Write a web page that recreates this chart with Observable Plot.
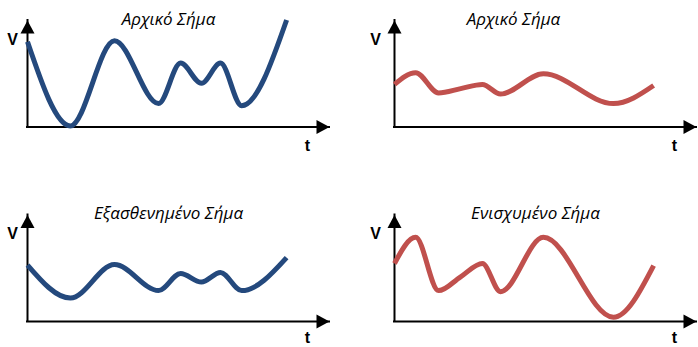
<!DOCTYPE html>
<html>
<head>
<meta charset="utf-8">
<script src="https://cdn.jsdelivr.net/npm/d3@7"></script>
<script src="https://cdn.jsdelivr.net/npm/@observablehq/plot@0.6"></script>
<style>
  html, body { margin: 0; padding: 0; background: #fff; }
</style>
</head>
<body>
<div id="chart"></div>
<script>
// Panel titles, in reading order (top-left, top-right, bottom-left, bottom-right)
const titles = ["Αρχικό Σήμα", "Αρχικό Σήμα", "Εξασθενημένο Σήμα", "Ενισχυμένο Σήμα"];
const axisLabels = {v: "V", t: "t"};

// Blue signal: original and attenuated
const blueT = [0, 14.2, 28.8, 43.4, 50.7, 57.6, 63.9, 70.9, 85.8];
const blueOriginalV = [8.0, 0.1, 8.1, 2.2, 6.0, 4.1, 6.0, 2.0, 10.05];
const blueAttenuatedV = [5.3, 2.2, 5.35, 2.9, 4.5, 3.7, 4.6, 2.9, 6.0];

// Red signal: original and amplified
const redT = [0, 7.0, 14.6, 21.9, 29.1, 35.1, 49.3, 72.5, 85.8];
const redOriginalV = [4.0, 5.1, 3.2, 3.6, 4.0, 3.1, 5.0, 2.2, 3.9];
const redAmplifiedV = [5.45, 7.9, 2.9, 4.2, 5.45, 2.8, 7.9, 0.4, 5.25];

// Axis extents (the arrow tips sit at the far end)
const tRange = [0, 100];
const vRange = [0, 10];

const BLUE = "#24497d";
const RED = "#c0504d";

const panels = titles.map((title, i) => ({title, panel: i, col: i % 2, row: Math.floor(i / 2)}));

const series = [
  {panel: 0, t: blueT, v: blueOriginalV, color: BLUE},
  {panel: 1, t: redT, v: redOriginalV, color: RED},
  {panel: 2, t: blueT, v: blueAttenuatedV, color: BLUE},
  {panel: 3, t: redT, v: redAmplifiedV, color: RED}
];

// Filled arrowheads with the tip at the symbol origin
const arrowUp = {draw(ctx) { ctx.moveTo(0, 0); ctx.lineTo(7, 13); ctx.lineTo(-7, 13); ctx.closePath(); }};
const arrowRight = {draw(ctx) { ctx.moveTo(0, 0); ctx.lineTo(-13, -7); ctx.lineTo(-13, 7); ctx.closePath(); }};

const curveMarks = series.map(s =>
  Plot.line(
    s.t.map((t, j) => ({t, v: s.v[j], col: s.panel % 2, row: Math.floor(s.panel / 2)})),
    {x: "t", y: "v", fx: "col", fy: "row", stroke: s.color, strokeWidth: 5,
     curve: "monotone-x", strokeLinejoin: "round", strokeLinecap: "butt"}
  )
);

const labelFont = {fontFamily: "Liberation Sans, Arial, sans-serif", fontWeight: "bold", fontSize: 16, fill: "black"};
const titleFont = {fontFamily: "Open Sans, sans-serif", fontStyle: "italic", fontSize: 17, fill: "black"};

const chart = Plot.plot({
  width: 698,
  height: 347,
  marginLeft: 27,
  marginRight: 2,
  marginTop: 20,
  marginBottom: 26,
  x: {domain: tRange, axis: null},
  y: {domain: vRange, axis: null},
  fx: {axis: null, paddingInner: 0.1771, paddingOuter: 0, round: false},
  fy: {axis: null, paddingInner: 0.4524, paddingOuter: 0, round: false},
  marks: [
    // axes
    Plot.ruleX([0], {stroke: "black", strokeWidth: 2, strokeLinecap: "square"}),
    Plot.ruleY([0], {stroke: "black", strokeWidth: 2, strokeLinecap: "square"}),
    Plot.dot([{t: tRange[0], v: vRange[1]}], {x: "t", y: "v", symbol: arrowUp, r: 5, fill: "black", stroke: "none"}),
    Plot.dot([{t: tRange[1], v: vRange[0]}], {x: "t", y: "v", symbol: arrowRight, r: 5, fill: "black", stroke: "none"}),
    // signals
    ...curveMarks,
    // axis names
    Plot.text(panels.filter(d => d.col === 0), {fx: "col", fy: "row", text: () => axisLabels.v, frameAnchor: "top-left", textAnchor: "middle", lineAnchor: "middle", dx: -15, dy: 19, ...labelFont}),
    Plot.text(panels.filter(d => d.col === 1), {fx: "col", fy: "row", text: () => axisLabels.v, frameAnchor: "top-left", textAnchor: "middle", lineAnchor: "middle", dx: -19, dy: 19, ...labelFont}),
    Plot.text(panels.filter(d => d.row === 0), {fx: "col", fy: "row", text: () => axisLabels.t, frameAnchor: "bottom-right", textAnchor: "middle", lineAnchor: "middle", dx: -22, dy: 19, ...labelFont}),
    Plot.text(panels.filter(d => d.row === 1), {fx: "col", fy: "row", text: () => axisLabels.t, frameAnchor: "bottom-right", textAnchor: "middle", lineAnchor: "middle", dx: -22, dy: 16, ...labelFont}),
    // panel titles
    Plot.text(panels.filter(d => d.panel !== 1), {fx: "col", fy: "row", text: "title", frameAnchor: "top", lineAnchor: "bottom", dx: -10, dy: 4, ...titleFont}),
    Plot.text(panels.filter(d => d.panel === 1), {fx: "col", fy: "row", text: "title", frameAnchor: "top", lineAnchor: "bottom", dx: -32, dy: 4, ...titleFont})
  ]
});

document.getElementById("chart").appendChild(chart);
</script>
</body>
</html>
